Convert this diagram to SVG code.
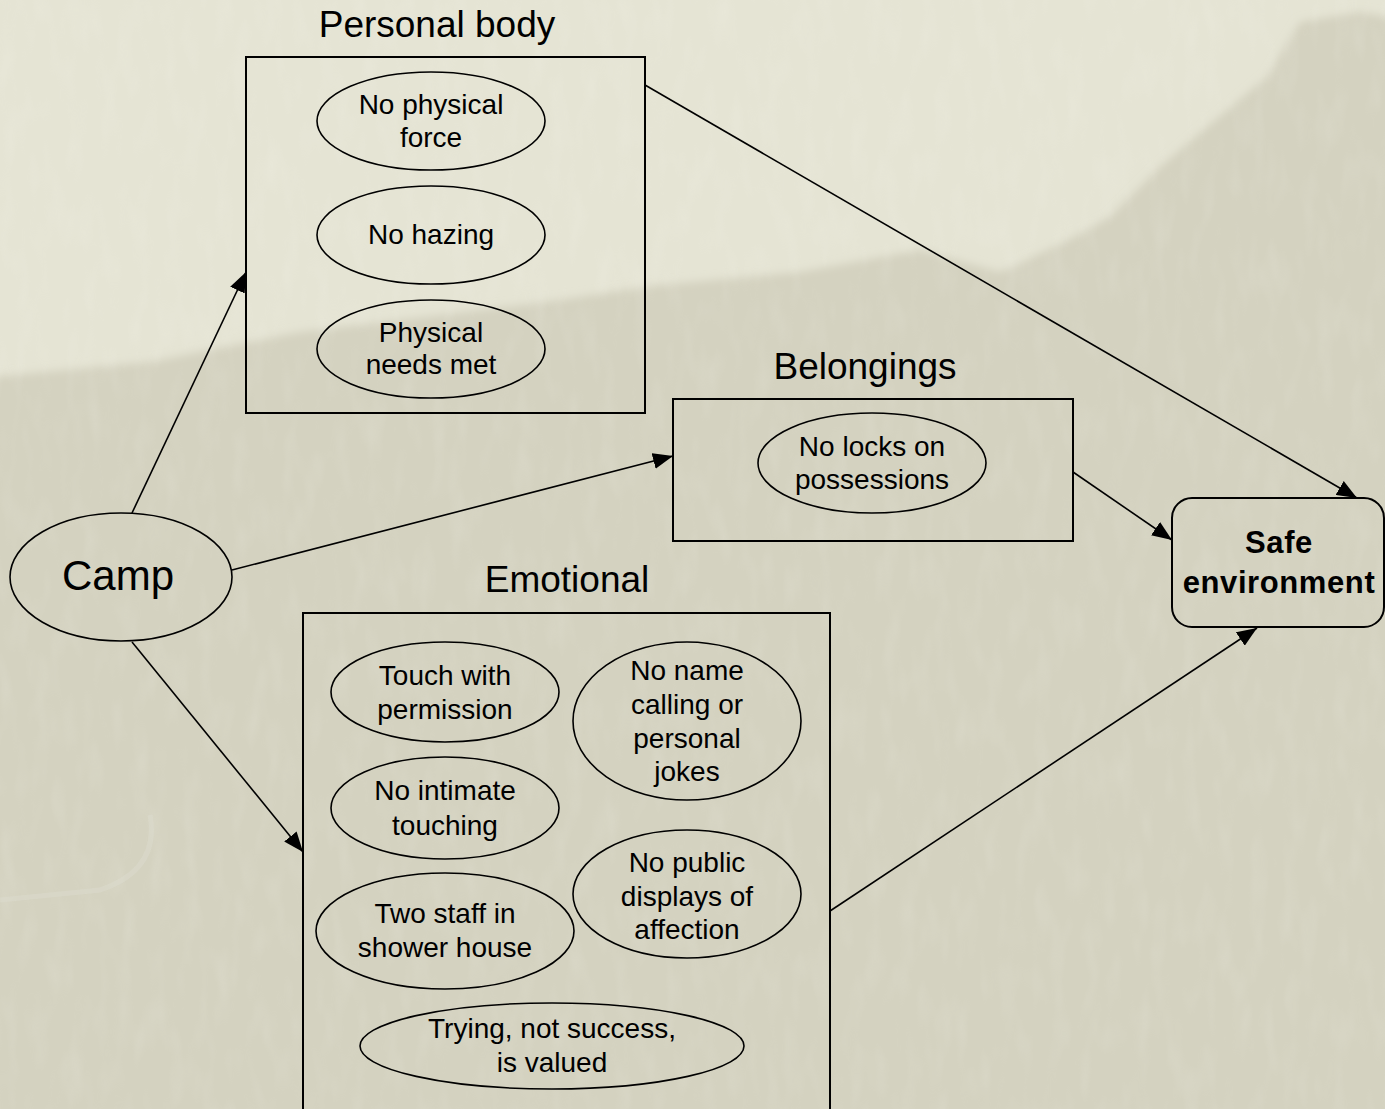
<svg xmlns="http://www.w3.org/2000/svg" width="1385" height="1109" viewBox="0 0 1385 1109">
  <style>
    .box { fill: none; stroke: #000; stroke-width: 2; }
    .oval { fill: none; stroke: #000; stroke-width: 1.6; }
    .edge { fill: none; stroke: #000; stroke-width: 1.6; }
    text { font-family: "Liberation Sans", Arial, sans-serif; fill: #000; text-anchor: middle; }
    .title { font-size: 37px; }
    .item { font-size: 28px; }
    .big { font-size: 42px; }
    .goal { font-size: 31px; font-weight: bold; letter-spacing: 0.6px; }
  </style>
  <defs>
    <marker id="arrow" viewBox="0 0 20 16" refX="20" refY="8" markerWidth="20" markerHeight="16" markerUnits="userSpaceOnUse" orient="auto">
      <path d="M0,0 L20,8 L0,16 Z" fill="#000"/>
    </marker>
    <filter id="soft" x="-5%" y="-5%" width="110%" height="110%">
      <feGaussianBlur stdDeviation="4"/>
    </filter>
    <filter id="paper" x="0" y="0" width="100%" height="100%">
      <feTurbulence type="fractalNoise" baseFrequency="0.06 0.02" numOctaves="2" seed="3" result="n"/>
      <feColorMatrix in="n" type="matrix" values="0 0 0 0 1  0 0 0 0 1  0 0 0 0 0.97  0 0 0 1.2 -0.55"/>
    </filter>
  </defs>

  <!-- paper background with a pale sky and a darker ridge -->
  <g id="background">
    <rect x="0" y="0" width="1385" height="1109" fill="#e5e4d4"/>
    <path d="M-20,378 L150,362 L300,332 L450,314 L560,300 L650,286 L800,272 L920,250 L1000,272 L1063,243 L1110,217 L1160,167 L1207,127 L1267,77 L1300,22 L1360,12 L1405,20 L1405,1130 L-20,1130 Z" fill="#d4d2c0" filter="url(#soft)"/>
    <rect x="0" y="0" width="1385" height="1109" filter="url(#paper)" opacity="0.18"/>
    <path d="M150,815 Q160,870 100,890 L0,900" fill="none" stroke="#e0e0d4" stroke-width="5" opacity="0.35"/>
  </g>

  <!-- connectors -->
  <g id="connectors">
    <line class="edge" x1="132" y1="513" x2="246" y2="272" marker-end="url(#arrow)"/>
    <line class="edge" x1="232" y1="570" x2="673" y2="456" marker-end="url(#arrow)"/>
    <line class="edge" x1="132" y1="642" x2="303" y2="852" marker-end="url(#arrow)"/>
    <line class="edge" x1="645" y1="85" x2="1357" y2="498" marker-end="url(#arrow)"/>
    <line class="edge" x1="1073" y1="472" x2="1172" y2="540" marker-end="url(#arrow)"/>
    <line class="edge" x1="830" y1="911" x2="1257" y2="628" marker-end="url(#arrow)"/>
  </g>

  <g id="camp">
    <ellipse class="oval" cx="121" cy="577" rx="111" ry="64"/>
    <text class="big" x="118" y="590">Camp</text>
  </g>

  <g id="personal-body">
    <text class="title" x="437" y="37">Personal body</text>
    <rect class="box" x="246" y="57" width="399" height="356"/>
    <g id="no-physical-force">
      <ellipse class="oval" cx="431" cy="121" rx="114" ry="49"/>
      <text class="item" x="431" y="114">No physical</text>
      <text class="item" x="431" y="147">force</text>
    </g>
    <g id="no-hazing">
      <ellipse class="oval" cx="431" cy="235" rx="114" ry="49"/>
      <text class="item" x="431" y="244">No hazing</text>
    </g>
    <g id="physical-needs">
      <ellipse class="oval" cx="431" cy="349" rx="114" ry="49"/>
      <text class="item" x="431" y="342">Physical</text>
      <text class="item" x="431" y="374">needs met</text>
    </g>
  </g>

  <g id="belongings">
    <text class="title" x="865" y="379">Belongings</text>
    <rect class="box" x="673" y="399" width="400" height="142"/>
    <g id="no-locks">
      <ellipse class="oval" cx="872" cy="463" rx="114" ry="50"/>
      <text class="item" x="872" y="456">No locks on</text>
      <text class="item" x="872" y="489">possessions</text>
    </g>
  </g>

  <g id="emotional">
    <text class="title" x="567" y="592">Emotional</text>
    <rect class="box" x="303" y="613" width="527" height="510"/>
    <g id="touch-permission">
      <ellipse class="oval" cx="445" cy="692" rx="114" ry="50"/>
      <text class="item" x="445" y="685">Touch with</text>
      <text class="item" x="445" y="719">permission</text>
    </g>
    <g id="no-name-calling">
      <ellipse class="oval" cx="687" cy="721" rx="114" ry="79"/>
      <text class="item" x="687" y="680">No name</text>
      <text class="item" x="687" y="714">calling or</text>
      <text class="item" x="687" y="748">personal</text>
      <text class="item" x="687" y="781">jokes</text>
    </g>
    <g id="no-intimate-touching">
      <ellipse class="oval" cx="445" cy="808" rx="114" ry="51"/>
      <text class="item" x="445" y="800">No intimate</text>
      <text class="item" x="445" y="835">touching</text>
    </g>
    <g id="no-public-displays">
      <ellipse class="oval" cx="687" cy="894" rx="114" ry="64"/>
      <text class="item" x="687" y="872">No public</text>
      <text class="item" x="687" y="906">displays of</text>
      <text class="item" x="687" y="939">affection</text>
    </g>
    <g id="two-staff">
      <ellipse class="oval" cx="445" cy="931" rx="129" ry="58"/>
      <text class="item" x="445" y="923">Two staff in</text>
      <text class="item" x="445" y="957">shower house</text>
    </g>
    <g id="trying-valued">
      <ellipse class="oval" cx="552" cy="1046" rx="192" ry="43"/>
      <text class="item" x="552" y="1038">Trying, not success,</text>
      <text class="item" x="552" y="1072">is valued</text>
    </g>
  </g>

  <g id="safe-environment">
    <rect class="box" x="1172" y="498" width="212" height="129" rx="20" ry="20"/>
    <text class="goal" x="1279" y="553">Safe</text>
    <text class="goal" x="1279" y="593">environment</text>
  </g>
</svg>
